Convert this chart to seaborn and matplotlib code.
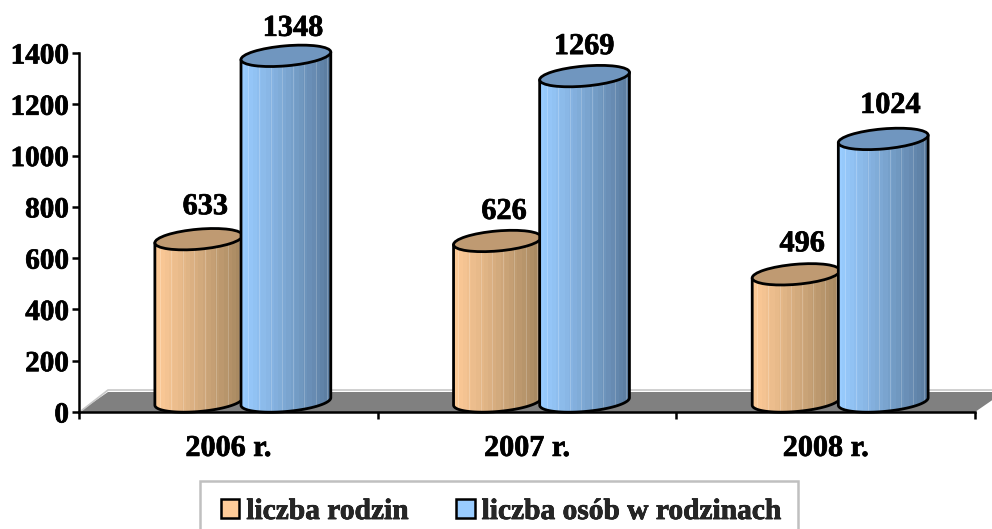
import numpy as np
import pandas as pd
import matplotlib
matplotlib.use("Agg")
import matplotlib.pyplot as plt
import matplotlib.patheffects as pe
from matplotlib.patches import Ellipse, Polygon, Patch, Rectangle
from matplotlib.transforms import IdentityTransform
import seaborn as sns

years = ["2006 r.", "2007 r.", "2008 r."]
series_names = ["liczba rodzin", "liczba osób w rodzinach"]
families = [633, 626, 496]
persons = [1348, 1269, 1024]

sns.set_style("white")
plt.rcParams["font.family"] = ["Liberation Serif", "DejaVu Serif"]
plt.rcParams["font.weight"] = "bold"

W, H = 992, 529
fig = plt.figure(figsize=(W / 100, H / 100), dpi=100, facecolor="white")
ax = fig.add_axes([79 / W, (H - 412) / H, (975 - 79) / W, (412 - 53) / H])

df = pd.DataFrame({
    "year": years * 2,
    "series": [series_names[0]] * 3 + [series_names[1]] * 3,
    "value": families + persons,
})
px_per_unit = (412 - 53) / 1400
base_units = 10.5 / px_per_unit
sns.barplot(data=df, x="year", y="value", hue="series", order=years,
            hue_order=series_names, width=0.59, gap=0, legend=False,
            palette=["#FFCC99", "#99CCFF"], bottom=base_units, ax=ax,
            saturation=1, zorder=2)
ax.set_xlim(-0.5, 2.5)
ax.set_ylim(0, 1400)
fig.canvas.draw()

# floor of the 3-D scene
floor_pts = [(0, 0), (1, 0), (1 + 29 / 896, 20 / 359), (29 / 896, 20 / 359)]
ax.add_patch(Polygon(floor_pts, closed=True, transform=ax.transAxes, fc="#808080",
                     ec="none", zorder=1, clip_on=False))
ax.plot([2 / 896, 29 / 896, 1 + 29 / 896], [1 / 359, 22 / 359, 22 / 359], color="#C8C8C8",
        lw=1.2, transform=ax.transAxes, clip_on=False, zorder=1)

STYLE = [
    dict(left="#FFCC99", right="#A58760", cap="#BF9A72"),
    dict(left="#99CCFF", right="#5A7B9E", cap="#7096BF"),
]
shift = 14.5 / (896 / 3)
tilt = np.deg2rad(5)
minor = 10.0
ident = IdentityTransform()
stroke = [pe.withStroke(linewidth=0.5, foreground="black")]


def ellipse_pts(cx, cy, a, b, t):
    x = a * np.cos(t)
    y = b * np.sin(t)
    return np.column_stack([cx + x * np.cos(tilt) - y * np.sin(tilt),
                            cy + x * np.sin(tilt) + y * np.cos(tilt)])


def band_image(left, right):
    c0 = np.array(matplotlib.colors.to_rgb(left))
    c1 = np.array(matplotlib.colors.to_rgb(right))
    n = 90
    u = np.floor(np.linspace(0, 1, n, endpoint=False) * 22) / 21
    u = u ** 1.1
    img = c0[None, :] * (1 - u[:, None]) + c1[None, :] * u[:, None]
    for col in range(8, n, 11):
        img[col] = img[col] * 0.8 + 0.2
    return img[None, :, :]


n_each = len(years)
patches = list(ax.patches)
bars = [p for p in patches if hasattr(p, "get_width")][:2 * n_each]
for i, bar in enumerate(bars):
    st = STYLE[i // n_each]
    bar.set_x(bar.get_x() + shift)
    x0, w = bar.get_x(), bar.get_width()
    (pl, pb), (pr, pt) = ax.transData.transform(
        [(x0, bar.get_y()), (x0 + w, bar.get_y() + bar.get_height())])
    cx = (pl + pr) / 2
    a = (pr - pl) / 2
    if i >= n_each:
        a += 1
        cx -= 1
    t_tan = np.arctan2(-minor * np.sin(tilt), a * np.cos(tilt))
    lower = ellipse_pts(cx, pb, a, minor, np.linspace(t_tan, t_tan - np.pi, 50))
    right_top = ellipse_pts(cx, pt, a, minor, np.array([t_tan]))
    left_top = ellipse_pts(cx, pt, a, minor, np.array([t_tan - np.pi]))
    body = np.vstack([right_top, lower, left_top])
    z = 3 + i / 10 if i < n_each else 4 + i / 10
    bar.set_linewidth(0)
    outline = Polygon(body, closed=True, transform=ident, fc="none", ec="black",
                      lw=2.0, joinstyle="round", zorder=z + 0.02, clip_on=False)
    ax.add_patch(outline)
    bar.set_clip_path(outline)
    img = ax.imshow(band_image(st["left"], st["right"]), aspect="auto",
                    extent=(x0 - 0.01, x0 + w, 0, bar.get_y() + bar.get_height()),
                    interpolation="nearest", zorder=z + 0.01)
    img.set_clip_path(outline)
    ax.add_patch(Ellipse((cx, pt), 2 * a, 2 * minor, angle=np.rad2deg(tilt), transform=ident,
                         fc=st["cap"], ec="black", lw=2.0, zorder=z + 0.03, clip_on=False))
ax.set_xlim(-0.5, 2.5)
ax.set_ylim(0, 1400)

# value labels (hand-placed in the original, hence the small individual offsets)
label_dx = [6.5, 6.5, 6, 6, -1.5, 6]
label_dy = [43, 40, 41, 38, 40, 44]
for i, bar in enumerate(bars):
    ax.annotate(f"{int(df['value'][i])}",
                xy=(bar.get_x() + bar.get_width() / 2, df["value"][i]),
                xytext=(label_dx[i] * 0.72, label_dy[i] * 0.72), textcoords="offset points",
                ha="center", va="center", fontsize=21.8, fontweight="bold", color="black",
                annotation_clip=False, zorder=10, path_effects=stroke)

# axes
sns.despine(ax=ax, top=True, right=True)
for s in ("left", "bottom"):
    ax.spines[s].set_linewidth(1.8)
    ax.spines[s].set_color("black")
    ax.spines[s].set_zorder(8)
ax.set_xlabel("")
ax.set_ylabel("")
ax.set_yticks(range(0, 1401, 200))
ax.set_xticks([-0.5, 0.5, 1.5, 2.5], labels=[""] * 4)
ax.set_xticks([0, 1, 2], labels=years, minor=True)
ax.tick_params(axis="y", which="major", left=True, length=5, width=1.8, pad=2.2, labelsize=21, color="black")
ax.tick_params(axis="x", which="major", bottom=True, length=5, width=1.8, color="black")
ax.tick_params(axis="x", which="minor", bottom=False, length=0, pad=16.5, labelsize=21.7)
for t in ax.get_xticklabels(minor=True) + ax.get_yticklabels():
    t.set_fontweight("bold")
    t.set_color("black")
    t.set_path_effects(stroke)

# legend
fig.add_artist(Rectangle((200 / W, -10 / H), 598 / W, (H - 481 + 10) / H, transform=fig.transFigure,
                         fc="white", ec="#C0C0C0", lw=1.8))
handles = [Patch(fc="#FFCC99", ec="black", lw=1.8, label=series_names[0]),
           Patch(fc="#99CCFF", ec="black", lw=1.8, label=series_names[1])]
leg = fig.legend(handles=handles, ncol=2, loc="upper left",
                 bbox_to_anchor=(201 / W, 1 - 478 / H), bbox_transform=fig.transFigure,
                 prop={"family": "Liberation Serif", "weight": "bold", "size": 21.2},
                 frameon=False, handlelength=0.62, handleheight=0.62, handletextpad=0.24,
                 columnspacing=1.62, borderpad=0.68, borderaxespad=0)
leg.set_zorder(5)
for t in leg.get_texts():
    t.set_path_effects(stroke)

fig.savefig("out.png", dpi=100, facecolor="white")
